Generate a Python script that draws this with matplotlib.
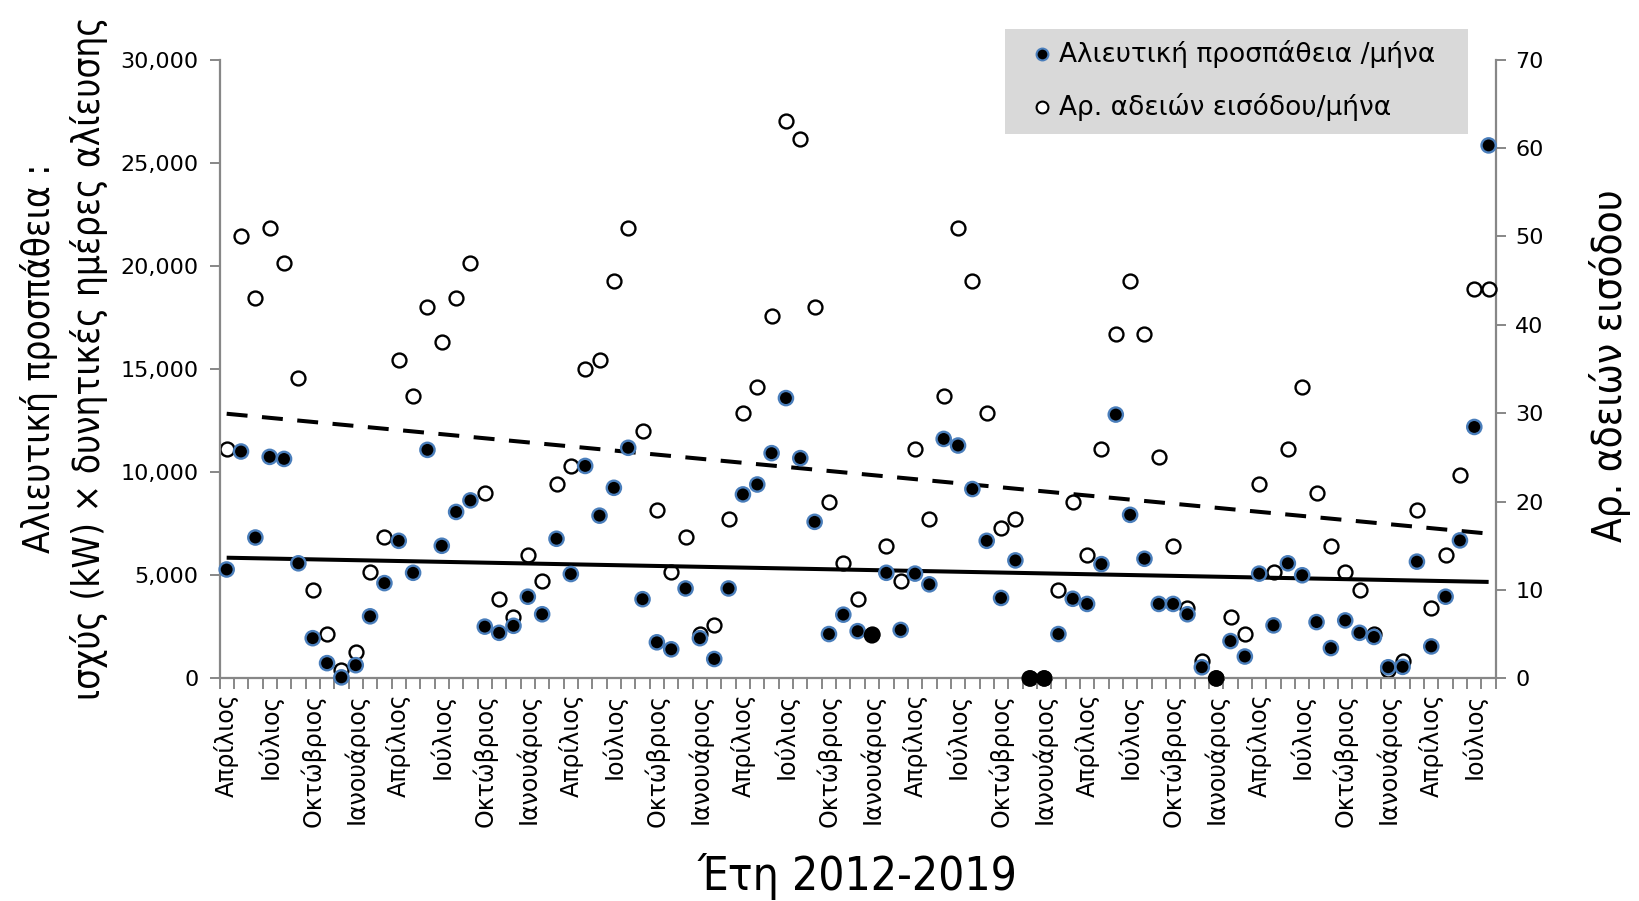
import numpy as np
import matplotlib
matplotlib.use("Agg")
import matplotlib.pyplot as plt
from matplotlib.patches import Rectangle
from matplotlib.lines import Line2D
from matplotlib import font_manager as fm

# ---------------- data ----------------
effort = [5280, 11000, 6830, 10740, 10640, 5580, 1950, 740, 50, 640,
          3010, 4620, 6670, 5120, 11080, 6430, 8070, 8630, 2510, 2210,
          2550, 3960, 3110, 6770, 5060, 10300, 7890, 9240, 11180, 3840,
          1750, 1410, 4360, 1950, 940, 4360, 8920, 9400, 10920, 13590,
          10680, 7590, 2150, 3090, 2290, 2090, 5120, 2350, 5080, 4560,
          11610, 11290, 9180, 6670, 3900, 5720, 0, 0, 2150, 3860,
          3610, 5540, 12790, 7930, 5800, 3610, 3610, 3110, 540, 0,
          1810, 1060, 5080, 2570, 5580, 5000, 2730, 1470, 2810, 2210,
          2010, 540, 560, 5660, 1550, 3960, 6690, 12190, 25840]

permits = [26, 50, 43, 51, 47, 34, 10, 5, 1, 3,
           12, 16, 36, 32, 42, 38, 43, 47, 21, 9,
           7, 14, 11, 22, 24, 35, 36, 45, 51, 28,
           19, 12, 16, 5, 6, 18, 30, 33, 41, 63,
           61, 42, 20, 13, 9, 5, 15, 11, 26, 18,
           32, 51, 45, 30, 17, 18, 0, 0, 10, 20,
           14, 26, 39, 45, 39, 25, 15, 8, 2, 0,
           7, 5, 22, 12, 26, 33, 21, 15, 12, 10,
           5, 1, 2, 19, 8, 14, 23, 44, 44]

month_cycle = ["Απρίλιος", "Ιούλιος", "Οκτώβριος", "Ιανουάριος"]
left_ticks = [0, 5000, 10000, 15000, 20000, 25000, 30000]
right_ticks = [0, 10, 20, 30, 40, 50, 60, 70]

series_names = ["Αλιευτική προσπάθεια /μήνα", "Αρ. αδειών εισόδου/μήνα"]
xlabel = "Έτη 2012-2019"
ylabel_left = "Αλιευτική προσπάθεια :\nισχύς (kW) × δυνητικές ημέρες αλίευσης"
ylabel_right = "Αρ. αδειών εισόδου"

# ---------------- fonts ----------------
title_fp = None
for f in fm.fontManager.ttflist:
    if f.fname.endswith("DejaVuSansCondensed.ttf"):
        title_fp = f.fname
        break
if title_fp is None:
    for f in fm.fontManager.ttflist:
        if "LiberationSansNarrow-Regular" in f.fname:
            title_fp = f.fname
            break


def tfont(size):
    if title_fp:
        return dict(fontproperties=fm.FontProperties(fname=title_fp, size=size))
    return dict(family=["DejaVu Sans"], fontsize=size * 0.92)


# ---------------- figure ----------------
W, H = 1639, 901
fig = plt.figure(figsize=(W / 100, H / 100), dpi=100)
fig.patch.set_facecolor("white")

L, R, T, B = 219.5, 1495.8, 59.6, 678.4
ax = fig.add_axes([L / W, 1 - B / H, (R - L) / W, (B - T) / H])
ax2 = ax.twinx()
ax.set_zorder(ax2.get_zorder() + 1)
ax.patch.set_visible(False)

gray = "#878787"
blue = "#4a7ebb"
tick_font = ["DejaVu Sans"]

e = np.array(effort, dtype=float)
p = np.array(permits, dtype=float)
x = np.arange(len(e))

ax.set_xlim(-0.5, len(e) - 0.5)
ax.set_ylim(0, 30000)
ax2.set_ylim(0, 70)

# linear trend lines (least squares)
ce = np.polyfit(x, e, 1)
cp = np.polyfit(x, p, 1)
ax.plot(x[[0, -1]], np.polyval(ce, x[[0, -1]]), color="black", lw=2.9,
        solid_capstyle="butt", zorder=2)
ax2.plot(x[[0, -1]], np.polyval(cp, x[[0, -1]]), color="black", lw=2.9,
         dashes=(5.2, 3.6), zorder=2)

# open markers (secondary axis)
ax2.scatter(x, p, s=100, facecolor="white", edgecolor="black", linewidth=1.7,
            zorder=3, clip_on=False)

# filled markers (primary axis); where both coincide the marker looks all black
coincide = np.abs(e / 30000 - p / 70) < 0.003
edge = [("black" if c else blue) for c in coincide]
ax.scatter(x, e, s=105, facecolor="black", edgecolor=edge, linewidth=1.7,
           zorder=4, clip_on=False)

# axes styling
for a in (ax, ax2):
    a.spines["top"].set_visible(False)
ax.spines["right"].set_visible(False)
ax2.spines["left"].set_visible(False)
ax2.spines["bottom"].set_visible(False)
for s in ("left", "bottom"):
    ax.spines[s].set_color(gray)
    ax.spines[s].set_linewidth(1.6)
ax2.spines["right"].set_color(gray)
ax2.spines["right"].set_linewidth(1.6)

ax.set_yticks(left_ticks)
ax.set_yticklabels([f"{v:,}" for v in left_ticks], family=tick_font, fontsize=16)
ax.tick_params(axis="y", direction="out", length=7, width=1.4, color=gray, pad=8)
ax2.set_yticks(right_ticks)
ax2.set_yticklabels([str(v) for v in right_ticks], family=tick_font, fontsize=16)
ax2.tick_params(axis="y", direction="out", length=7, width=1.4, color=gray, pad=7)

label_pos = x[::3]
labels = [month_cycle[i % 4] for i in range(len(label_pos))]
ax.set_xticks(label_pos)
ax.set_xticklabels(labels, rotation=90, family=tick_font, fontsize=17)
ax.tick_params(axis="x", which="major", length=0, pad=11)
ax.set_xticks(np.arange(-0.5, len(e), 1), minor=True)
ax.tick_params(axis="x", which="minor", direction="out", length=8, width=1.4, color=gray)

# axis titles
fig.text(857.6 / W, 1 - 876 / H, xlabel, ha="center", va="center", **tfont(33))
fig.text(64 / W, 1 - 358 / H, ylabel_left, rotation=90, ha="center", va="center",
         multialignment="center", linespacing=1.37, **tfont(26.5))
fig.text(1610 / W, 1 - 366 / H, ylabel_right, rotation=90, ha="center", va="center",
         **tfont(29))

# legend box
lx0, lx1, ly0, ly1 = 1004.5, 1467.5, 29, 134
fig.patches.append(Rectangle((lx0 / W, 1 - ly1 / H), (lx1 - lx0) / W, (ly1 - ly0) / H,
                             transform=fig.transFigure, facecolor="#d9d9d9",
                             edgecolor="none", zorder=5))
rows = [54.4, 106.6]
fig.lines.append(Line2D([1042 / W], [1 - rows[0] / H], transform=fig.transFigure,
                        marker="o", ms=8.5, mfc="black", mec=blue, mew=1.5,
                        ls="none", zorder=6))
fig.lines.append(Line2D([1042 / W], [1 - rows[1] / H], transform=fig.transFigure,
                        marker="o", ms=8.5, mfc="white", mec="black", mew=1.5,
                        ls="none", zorder=6))
for r, name in zip(rows, series_names):
    fig.text(1059 / W, 1 - r / H, name, ha="left", va="center",
             family=tick_font, fontsize=19, zorder=7)

fig.savefig("out.png", dpi=100)
